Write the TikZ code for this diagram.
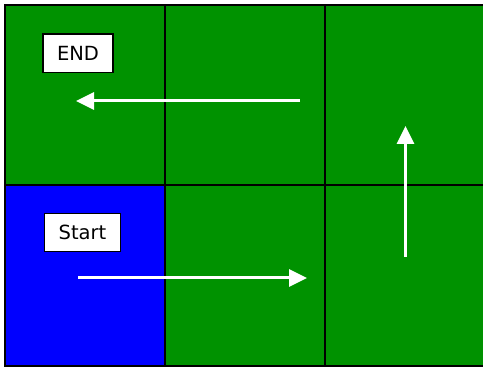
\documentclass[tikz,border=0pt]{standalone}
\usepackage{fontspec}
\setsansfont{DejaVu Sans}
\usetikzlibrary{arrows.meta}
\definecolor{fieldgreen}{RGB}{0,146,0}
\definecolor{fieldblue}{RGB}{0,0,255}
\begin{document}
\begin{tikzpicture}[x=1pt, y=-1pt,
    cell/.style={minimum width=160pt, inner sep=0pt, outer sep=0pt},
    tag/.style={draw=black, line width=1.3pt, fill=white, minimum height=38.5pt,
      inner xsep=14pt, font=\fontsize{19.5}{22}\sffamily},
    move/.style={white, line width=3pt, -{Triangle[length=18pt, width=17pt]}}]
  \fill[white] (0,0) rectangle (483,369);
  \useasboundingbox (0,0) rectangle (483,369);
  \foreach \r/\c/\y/\h/\f in {0/0/95/180/fieldgreen, 0/1/95/180/fieldgreen,
      0/2/95/180/fieldgreen, 1/0/275.5/181/fieldblue,
      1/1/275.5/181/fieldgreen, 1/2/275.5/181/fieldgreen} {
    \node[cell, minimum height=\h pt, fill=\f] (cell\r\c) at (85+160*\c, \y) {};
  }
  % grid lines on top of the fills
  \foreach \r in {0,1} {
    \foreach \c in {0,1,2} {
      \draw[black, line width=1.6pt] (cell\r\c.north west) rectangle (cell\r\c.south east);
    }
  }
  \node[tag] (goal) at (78,53.3) {END};
  \node[tag] (start) at (82.5,232.5) {Start};
  % route through the squares
  \coordinate (p1) at (78,278);
  \coordinate (p2) at (307,278);
  \coordinate (p3) at (405.5,257);
  \coordinate (p4) at (405.5,126);
  \coordinate (p5) at (300,101);
  \coordinate (p6) at (76,101);
  \draw[move] (p1) -- (p2);
  \draw[move] (p3) -- (p4);
  \draw[move] (p5) -- (p6);
\end{tikzpicture}
\end{document}
